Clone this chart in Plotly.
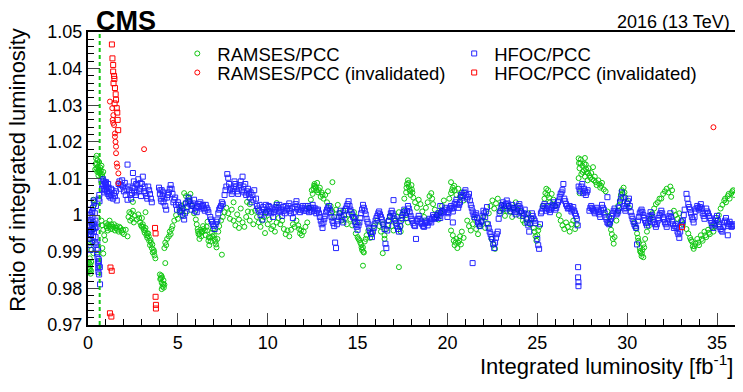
import plotly.graph_objects as go

# HFOC/PCC ratio vs integrated luminosity (fb^-1)
hfoc = [
    (0.05, 0.9955), (0.08, 0.9945), (0.1, 0.997), (0.12, 0.9935), (0.15, 0.996), (0.18, 0.9985),
    (0.2, 1.0005), (0.22, 0.9975), (0.25, 0.9995), (0.28, 1.002), (0.3, 0.998), (0.32, 1.004),
    (0.35, 1.0035), (0.38, 1.0005), (0.4, 0.9965), (0.42, 0.994), (0.45, 0.992), (0.48, 0.9905),
    (0.5, 0.9895), (0.52, 0.9925), (0.55, 0.987), (0.57, 0.9855), (0.58, 0.9845), (0.6, 0.9862),
    (0.62, 0.9838), (0.35, 0.9975), (0.27, 0.9962), (0.12, 1.0), (0.6, 1.0045), (0.63, 1.0055),
    (0.67, 0.9811),
    (0.75, 1.0095), (0.8, 1.0085), (0.85, 1.008), (0.9, 1.0072), (0.95, 1.0088), (1.0, 1.0078),
    (1.05, 1.0065), (1.1, 1.0058), (1.15, 1.0075), (1.2, 1.0062), (1.25, 1.0048), (1.3, 1.0055),
    (1.35, 1.0068), (1.4, 1.0045), (1.5, 1.0052), (1.6, 1.004), (0.9, 1.0062), (1.0, 1.009),
    (1.7, 1.0085), (1.8, 1.0072), (1.9, 1.0095), (2.0, 1.0065), (2.1, 1.0055), (2.2, 1.0138),
    (2.25, 1.0078), (2.3, 1.0068), (2.4, 1.0045), (2.45, 1.006), (2.5, 1.0115), (2.55, 1.0092),
    (2.6, 1.0075), (2.7, 1.0062), (2.75, 1.0082), (2.8, 1.0098), (2.9, 1.0072), (2.95, 1.0052),
    (3.0, 1.0085), (3.1, 1.0065), (3.2, 1.006), (3.3, 1.0045), (3.35, 1.0078), (3.45, 1.0058),
    (3.55, 1.0035), (2.2, 1.0042), (2.65, 1.0055), (3.05, 1.0105),
    (3.95, 1.0075), (4.0, 1.0058), (4.05, 1.0045), (4.1, 1.0068), (4.15, 1.0052), (4.2, 1.0035),
    (4.3, 1.0025), (4.35, 1.0015), (4.4, 1.0048), (4.5, 1.0062), (4.6, 1.0082), (4.65, 1.0072),
    (4.7, 1.0058),
    (4.8, 1.0042), (4.9, 1.0028), (5.0, 1.0035), (5.1, 1.002), (5.2, 1.0012), (5.3, 0.9998),
    (5.35, 0.9988), (5.4, 1.0005), (5.5, 1.0022), (5.55, 1.0038), (5.6, 1.0048), (5.7, 1.003),
    (5.75, 1.0015), (5.8, 1.0025), (5.9, 1.0042), (6.0, 1.002), (6.05, 1.0008),
    (6.1, 1.0025), (6.2, 1.003), (6.3, 1.0018), (6.4, 1.0028), (6.5, 1.0012), (6.6, 1.002),
    (6.7, 1.0008), (6.8, 0.9995), (6.9, 0.9982), (7.0, 0.997), (7.05, 0.9962), (7.1, 0.9975),
    (7.2, 0.9988), (7.3, 1.0015), (7.4, 1.0025), (7.5, 1.003),
    (7.6, 1.0055), (7.7, 1.0078), (7.75, 1.0112), (7.8, 1.0102), (7.9, 1.0068), (8.0, 1.0058),
    (8.1, 1.0072), (8.2, 1.0085), (8.3, 1.0065), (8.4, 1.0075), (8.5, 1.0092), (8.6, 1.0105),
    (8.65, 1.0078), (8.7, 1.0062), (8.8, 1.0055), (8.9, 1.0072), (9.0, 1.0048), (9.1, 1.0035),
    (9.15, 1.0055),
    (9.25, 1.0068), (9.35, 1.0045), (9.4, 1.0025), (9.5, 1.0012), (9.6, 1.0), (9.7, 0.9988),
    (9.8, 1.0015), (9.9, 1.0028), (10.0, 1.001), (10.1, 1.0022), (10.2, 1.0005), (10.3, 0.9995),
    (10.4, 1.0015), (10.5, 1.0028), (10.6, 1.002), (10.7, 1.0008), (10.8, 0.9998), (10.9, 1.0012),
    (11.0, 1.0025), (11.1, 1.0018), (11.2, 1.0032), (11.3, 1.0005), (11.4, 0.9992), (11.5, 1.0022),
    (11.6, 1.0038), (11.7, 1.0015),
    (11.8, 1.0008), (11.9, 1.002), (12.0, 1.0012), (12.1, 1.0025), (12.2, 1.0018), (12.3, 1.0008),
    (12.4, 1.002), (12.5, 1.0028), (12.6, 1.0012), (12.7, 1.0005), (12.8, 1.0015), (12.9, 0.9995),
    (13.0, 0.9975), (13.05, 0.9965), (13.1, 0.998), (13.2, 0.9998), (13.3, 1.0015),
    (13.4, 1.0025), (13.5, 1.0005), (13.6, 0.9985), (13.7, 0.997), (13.75, 0.9925), (13.8, 0.991),
    (13.9, 0.9985), (14.0, 1.0005), (14.1, 0.9995), (14.2, 0.998), (14.3, 1.0012), (14.4, 1.0025),
    (14.5, 1.0038), (14.6, 1.0015), (14.7, 1.0002), (14.8, 0.9992), (14.9, 0.9975), (15.0, 0.996),
    (15.1, 0.998), (15.2, 1.0005), (15.3, 1.0028), (15.4, 1.0012),
    (15.5, 0.999), (15.6, 0.9975), (15.7, 0.9955), (15.8, 0.994), (15.9, 0.9965), (16.0, 0.9985),
    (16.1, 0.9998), (16.2, 1.001), (16.3, 0.9995), (16.4, 0.998), (16.5, 0.9962), (16.55, 0.9922),
    (16.6, 0.991), (16.7, 0.9972), (16.8, 0.9995), (16.9, 1.0012), (17.0, 0.9998), (17.1, 0.9985),
    (17.2, 0.997), (17.3, 0.9955), (17.4, 0.9985), (17.5, 1.0), (17.6, 1.0015), (17.7, 0.9992),
    (17.8, 1.0025), (17.0, 1.0041),
    (17.9, 1.0008), (18.0, 0.999), (18.1, 0.9978), (18.2, 0.997), (18.25, 0.9935), (18.3, 0.9985),
    (18.4, 0.9998), (18.5, 0.9982), (18.6, 0.9975), (18.7, 0.9968), (18.8, 0.9985), (18.9, 0.9972),
    (19.0, 0.999), (19.1, 0.998), (19.2, 1.0),
    (19.3, 0.999), (19.4, 0.9995), (19.5, 1.0005), (19.6, 0.9992), (19.7, 1.0012), (19.8, 1.0008),
    (19.9, 1.002), (20.0, 0.9995), (20.1, 1.0015), (20.2, 1.0025), (20.3, 1.001), (20.4, 1.003),
    (20.5, 1.0042), (20.6, 1.002), (20.7, 1.0035), (20.75, 1.0055), (20.8, 1.0048), (20.9, 1.006),
    (21.0, 1.0068), (21.1, 1.0045), (21.2, 1.0058), (20.3, 0.998), (19.6, 1.0025),
    (21.3, 1.0028), (21.4, 1.001), (21.5, 0.9995), (21.6, 1.0005), (21.7, 0.998), (21.8, 0.997),
    (21.9, 0.9985), (22.0, 1.0012), (22.1, 0.9995), (22.2, 1.0022), (21.4, 0.9869),
    (22.3, 0.9965), (22.4, 0.9948), (22.5, 0.9935), (22.55, 0.992), (22.6, 0.991), (22.7, 0.9938),
    (22.8, 0.9955),
    (22.9, 1.0005), (23.0, 1.002), (23.1, 1.0035), (23.2, 1.0018), (23.3, 1.004), (23.4, 1.0025),
    (23.5, 1.001), (23.6, 1.0028), (23.7, 1.0015), (23.8, 1.0002),
    (23.9, 1.002), (24.0, 1.003), (24.1, 1.0012), (24.2, 0.9998), (24.3, 1.0015), (24.4, 0.999),
    (24.5, 0.9972), (24.55, 0.9955), (24.6, 0.9978), (24.7, 1.0005), (24.8, 0.999), (24.9, 0.9978),
    (25.0, 0.9935), (25.05, 0.9918), (25.1, 0.9908), (25.15, 0.9975),
    (25.2, 1.0005), (25.3, 1.0018), (25.4, 1.003), (25.5, 1.0012), (25.6, 1.0025), (25.7, 1.0008),
    (25.8, 1.002), (25.9, 1.0035), (26.0, 1.0015), (26.1, 1.0028), (26.2, 1.004), (26.3, 1.0058),
    (26.4, 1.0068), (26.45, 1.0085), (26.5, 1.0045), (26.6, 1.003), (26.7, 1.0018), (26.8, 1.0025),
    (26.9, 1.001), (27.0, 1.0022), (27.1, 1.0005), (27.2, 0.999), (27.25, 0.9972),
    (27.3, 1.0078), (27.4, 1.0065), (27.5, 1.0085), (27.55, 1.006), (27.6, 1.0072), (27.7, 1.0055),
    (27.8, 1.0068), (27.27, 0.9858), (27.27, 0.983), (27.29, 0.9817), (27.29, 0.9806),
    (27.9, 1.0012), (28.0, 1.0025), (28.1, 1.0015), (28.2, 1.0005), (28.3, 1.002), (28.4, 1.0008),
    (28.5, 0.9995), (28.6, 1.0028), (28.7, 1.0015), (28.8, 0.9995), (28.9, 0.998), (29.0, 0.9975),
    (29.1, 0.999), (29.2, 1.0005), (29.3, 1.0018), (29.4, 1.0002), (29.5, 1.001), (28.9, 1.0049),
    (29.6, 1.0035), (29.7, 1.0062), (29.75, 1.0048), (29.8, 1.0025), (29.9, 1.0012), (30.0, 1.003),
    (30.1, 1.0045), (30.2, 1.0008),
    (30.3, 0.999), (30.4, 0.9975), (30.5, 0.9965), (30.55, 0.992), (30.6, 0.9985), (30.7, 1.0005),
    (30.8, 1.0015), (30.9, 1.0), (31.0, 0.9985), (31.1, 0.9972), (31.2, 0.999), (31.3, 1.0008),
    (31.4, 0.9995), (31.5, 0.998), (31.6, 0.9968), (31.7, 0.9985), (31.8, 1.0), (31.9, 1.0012),
    (32.0, 0.9995), (32.1, 0.998), (32.2, 0.9968), (32.3, 0.999), (32.4, 1.0005),
    (32.5, 0.9985), (32.6, 0.9965), (32.7, 0.9975), (32.8, 0.9955), (32.9, 0.9938), (33.0, 0.9972),
    (33.1, 0.9985), (33.2, 1.0015),
    (33.3, 1.0058), (33.35, 1.0045), (33.4, 1.003), (33.5, 1.0015), (33.6, 0.9995), (33.7, 0.998),
    (33.8, 1.001),
    (33.9, 1.0025), (34.0, 1.0015), (34.1, 1.003), (34.2, 1.0005), (34.3, 0.999), (34.4, 1.0018),
    (34.5, 1.0005), (34.6, 0.9992), (34.7, 0.9978), (34.8, 0.9965), (34.9, 0.9985), (35.0, 0.9998),
    (35.1, 0.9975), (35.2, 0.9962), (35.3, 0.9955), (35.4, 0.998), (35.5, 0.9992), (35.6, 0.997),
    (35.7, 0.9982), (35.8, 0.9968), (35.9, 0.9975), (35.6, 0.9945),
    # second pass: denser band points
    (0.03, 0.998), (0.07, 1.0015), (0.1, 0.9925), (0.14, 0.9905), (0.17, 0.9948), (0.21, 0.9958),
    (0.24, 1.001), (0.29, 0.9942), (0.33, 0.9955), (0.37, 0.9925), (0.41, 0.9985), (0.44, 1.0025),
    (0.47, 0.9968), (0.53, 0.9885), (0.56, 0.9905), (0.59, 0.988), (0.61, 0.9875), (0.64, 1.0038),
    (0.66, 0.9858),
    (0.78, 1.0072), (0.83, 1.0098), (0.88, 1.0092), (0.93, 1.0068), (0.98, 1.0082), (1.08, 1.0075),
    (1.12, 1.0085), (1.18, 1.0052), (1.28, 1.0072), (1.45, 1.006), (1.55, 1.0065), (1.75, 1.0092),
    (1.85, 1.0082), (1.95, 1.0078), (2.05, 1.0088), (2.15, 1.0072), (2.35, 1.0055), (2.48, 1.0075),
    (2.58, 1.0065), (2.68, 1.0085), (2.85, 1.0065), (2.92, 1.0088), (3.15, 1.0078), (3.25, 1.0052),
    (3.4, 1.0068), (3.5, 1.0045),
    (4.02, 1.0068), (4.08, 1.0038), (4.18, 1.0062), (4.25, 1.0045), (4.45, 1.0055), (4.55, 1.0072),
    (4.75, 1.0035), (4.85, 1.0048), (4.95, 1.0015), (5.05, 1.0028), (5.15, 1.0008), (5.25, 1.0018),
    (5.45, 1.0032), (5.65, 1.004), (5.85, 1.0032), (5.95, 1.0012),
    (6.15, 1.0022), (6.25, 1.0035), (6.35, 1.0025), (6.45, 1.0018), (6.55, 1.0028), (6.65, 1.0015),
    (6.85, 0.9988), (6.95, 0.9975), (7.15, 0.9982), (7.25, 1.0005), (7.35, 1.002), (7.45, 1.0035),
    (7.65, 1.0068), (7.85, 1.0085), (7.95, 1.0075), (8.05, 1.0065), (8.15, 1.0092), (8.25, 1.0078),
    (8.35, 1.0058), (8.45, 1.0082), (8.55, 1.0068), (8.75, 1.0085), (8.85, 1.0065), (8.95, 1.0058),
    (9.05, 1.0062), (9.2, 1.0042),
    (9.45, 1.0018), (9.55, 1.0028), (9.65, 1.0008), (9.75, 1.0022), (9.85, 1.0005), (9.95, 1.0015),
    (10.05, 1.0025), (10.15, 1.001), (10.25, 1.0018), (10.35, 1.0008), (10.45, 1.0022), (10.55, 1.0012),
    (10.65, 1.0028), (10.75, 1.0015), (10.85, 1.0022), (10.95, 1.0005), (11.05, 1.0015), (11.15, 1.0025),
    (11.25, 1.0012), (11.35, 1.0018), (11.45, 1.0008), (11.55, 1.003), (11.65, 1.0022),
    (11.85, 1.0015), (11.95, 1.0025), (12.05, 1.0018), (12.15, 1.0012), (12.25, 1.0025), (12.35, 1.0015),
    (12.45, 1.001), (12.55, 1.002), (12.65, 1.0018), (12.75, 1.0012), (12.85, 1.0005), (12.95, 0.9985),
    (13.15, 0.999), (13.25, 1.0008), (13.35, 1.002),
    (13.45, 1.0015), (13.55, 0.9995), (13.65, 0.9978), (13.85, 0.9975), (13.95, 0.9995), (14.05, 1.0012),
    (14.15, 0.9988), (14.25, 1.0), (14.35, 1.0018), (14.45, 1.003), (14.55, 1.0025), (14.65, 1.0008),
    (14.75, 0.9995), (14.85, 0.9982), (14.95, 0.9968), (15.05, 0.9972), (15.15, 0.9992), (15.25, 1.0015),
    (15.35, 1.002), (15.45, 1.0002),
    (15.55, 0.9982), (15.65, 0.9965), (15.75, 0.9948), (15.85, 0.9955), (15.95, 0.9975), (16.05, 0.9992),
    (16.15, 1.0005), (16.25, 1.0002), (16.35, 0.9988), (16.45, 0.9972), (16.65, 0.9958), (16.75, 0.9985),
    (16.85, 1.0005), (16.95, 1.0005), (17.05, 0.999), (17.15, 0.9978), (17.25, 0.9962), (17.35, 0.997),
    (17.45, 0.9992), (17.55, 1.0008), (17.65, 1.0005), (17.75, 1.001), (17.85, 1.0018),
    (17.95, 0.9998), (18.05, 0.9985), (18.15, 0.9972), (18.35, 0.999), (18.45, 0.999), (18.55, 0.9978),
    (18.65, 0.997), (18.75, 0.9978), (18.85, 0.998), (18.95, 0.998), (19.05, 0.9985), (19.15, 0.999),
    (19.25, 0.9995),
    (19.35, 0.9992), (19.45, 1.0), (19.55, 0.9998), (19.65, 1.0005), (19.75, 1.001), (19.85, 1.0015),
    (19.95, 1.0008), (20.05, 1.0005), (20.15, 1.002), (20.25, 1.0018), (20.35, 1.002), (20.45, 1.0035),
    (20.55, 1.003), (20.65, 1.0028), (20.85, 1.0052), (20.95, 1.0062), (21.05, 1.0055), (21.15, 1.005),
    (21.25, 1.004),
    (21.35, 1.002), (21.45, 1.0002), (21.55, 1.0), (21.65, 0.9992), (21.75, 0.9975), (21.85, 0.998),
    (21.95, 0.9998), (22.05, 1.0005), (22.15, 1.001), (22.25, 0.9975), (22.35, 0.9955), (22.45, 0.994),
    (22.65, 0.9925), (22.75, 0.9948), (22.85, 0.999), (22.95, 1.0012), (23.05, 1.0028), (23.15, 1.0025),
    (23.25, 1.003), (23.35, 1.0032), (23.45, 1.0018), (23.55, 1.002), (23.65, 1.002), (23.75, 1.0008),
    (23.85, 1.001),
    (23.95, 1.0025), (24.05, 1.002), (24.15, 1.0005), (24.25, 1.0005), (24.35, 1.0002), (24.45, 0.998),
    (24.65, 0.999), (24.75, 0.9998), (24.85, 0.9985), (25.25, 1.001), (25.35, 1.0025), (25.45, 1.002),
    (25.55, 1.0018), (25.65, 1.0015), (25.75, 1.0015), (25.85, 1.0028), (25.95, 1.0025), (26.05, 1.002),
    (26.15, 1.0035), (26.25, 1.005), (26.35, 1.0062), (26.55, 1.0038), (26.65, 1.0025), (26.75, 1.002),
    (26.85, 1.0018), (26.95, 1.0015), (27.05, 1.0012), (27.15, 0.9998),
    (27.35, 1.007), (27.45, 1.0078), (27.65, 1.0065), (27.75, 1.0062), (27.95, 1.002), (28.05, 1.0018),
    (28.15, 1.001), (28.25, 1.0012), (28.35, 1.0015), (28.45, 1.0002), (28.55, 1.0012), (28.65, 1.002),
    (28.75, 1.0005), (28.85, 0.9988), (28.95, 0.9978), (29.05, 0.9982), (29.15, 0.9998), (29.25, 1.0012),
    (29.35, 1.001), (29.45, 1.0005), (29.55, 1.002),
    (29.65, 1.0045), (29.85, 1.0018), (29.95, 1.002), (30.05, 1.0038), (30.15, 1.0025), (30.25, 0.9998),
    (30.35, 0.9982), (30.45, 0.997), (30.65, 0.9995), (30.75, 1.001), (30.85, 1.0008), (30.95, 0.9992),
    (31.05, 0.9978), (31.15, 0.998), (31.25, 0.9998), (31.35, 1.0), (31.45, 0.9988), (31.55, 0.9975),
    (31.65, 0.9975), (31.75, 0.9992), (31.85, 1.0005), (31.95, 1.0005), (32.05, 0.9988), (32.15, 0.9975),
    (32.25, 0.998), (32.35, 0.9998), (32.45, 0.9995), (32.55, 0.9975), (32.65, 0.997), (32.75, 0.9965),
    (32.85, 0.9948), (32.95, 0.9955), (33.05, 0.998), (33.15, 1.0),
    (33.45, 1.0022), (33.55, 1.0005), (33.65, 0.9988), (33.75, 0.9995), (33.85, 1.0018), (33.95, 1.002),
    (34.05, 1.0022), (34.15, 1.0018), (34.25, 0.9998), (34.35, 1.0005), (34.45, 1.001), (34.55, 0.9998),
    (34.65, 0.9985), (34.75, 0.9972), (34.85, 0.9975), (34.95, 0.9992), (35.05, 0.9985), (35.15, 0.9968),
    (35.25, 0.9958), (35.35, 0.9968), (35.45, 0.9985), (35.55, 0.998), (35.65, 0.9975), (35.75, 0.9975),
    (35.85, 0.997), (35.95, 0.9972),
]

# RAMSES/PCC ratio
ramses = [
    (0.02, 0.9858), (0.05, 0.9845), (0.08, 0.9868), (0.1, 0.9882), (0.12, 0.9852), (0.15, 0.984),
    (0.18, 0.9872), (0.05, 0.9935), (0.1, 0.9918), (0.15, 0.9955), (0.2, 0.9905), (0.25, 0.9925),
    (0.3, 0.9962), (0.3, 1.0042), (0.35, 1.0028), (0.22, 0.9978), (0.3, 0.9896),
    (0.4, 1.0125), (0.45, 1.0155), (0.5, 1.014), (0.52, 1.0118), (0.55, 1.0132), (0.58, 1.0108),
    (0.6, 1.0125), (0.62, 1.0145), (0.65, 1.012), (0.7, 1.0112), (0.75, 1.0135), (0.8, 1.0105),
    (0.85, 1.0118), (0.48, 1.0162),
    (0.75, 0.9985), (0.8, 0.9972), (0.85, 0.996), (0.9, 0.9945), (0.95, 0.9932), (1.0, 0.9978),
    (1.05, 0.9965), (1.1, 0.9958), (1.15, 0.997), (1.2, 0.9985), (1.25, 0.9962), (1.3, 0.9975),
    (1.4, 0.9968), (1.5, 0.9958), (1.6, 0.997), (1.7, 0.9955), (1.8, 0.9965), (1.9, 0.9952),
    (2.0, 0.9948), (2.1, 0.996), (2.2, 0.9942), (0.8, 0.991), (0.85, 0.9895),
    (2.25, 0.9995), (2.3, 1.0008), (2.35, 0.9985), (2.4, 1.0005), (2.45, 0.999), (2.5, 1.0012),
    (2.55, 0.998), (2.6, 0.9998), (2.7, 0.9988), (2.8, 1.0002), (2.85, 0.9992), (2.5, 1.0036),
    (2.9, 0.998), (3.0, 0.9968), (3.05, 0.9975), (3.1, 0.996), (3.15, 0.9952), (3.2, 0.9965),
    (3.25, 0.9945), (3.3, 0.9938), (3.35, 0.995), (3.4, 0.993), (3.45, 0.9918), (3.5, 0.9925),
    (3.55, 0.991), (3.6, 0.9898), (3.65, 0.9905), (3.7, 0.989), (3.75, 0.9882), (3.0, 0.9992),
    (3.2, 1.0008),
    (4.0, 0.9838), (4.05, 0.9828), (4.1, 0.9815), (4.12, 0.983), (4.15, 0.9805), (4.2, 0.9822),
    (4.25, 0.981), (4.1, 0.9798), (4.3, 0.9869),
    (4.25, 0.991), (4.3, 0.9925), (4.35, 0.9918), (4.4, 0.9935), (4.5, 0.9942), (4.55, 0.9955),
    (4.6, 0.9948), (4.65, 0.9962), (4.7, 0.997),
    (4.8, 0.9985), (4.9, 1.0), (5.0, 0.999), (5.1, 1.0012), (5.2, 1.0025), (5.25, 1.0),
    (5.3, 1.0018), (5.4, 1.0032), (5.5, 1.001), (5.6, 1.0048), (5.65, 1.0038), (5.7, 1.0058),
    (5.8, 1.0025), (5.9, 1.0005), (6.0, 0.9988), (5.35, 1.006), (5.45, 1.0052),
    (6.05, 0.9975), (6.1, 0.9962), (6.15, 0.9948), (6.2, 0.9935), (6.25, 0.996), (6.3, 0.9942),
    (6.35, 0.9955), (6.4, 0.997), (6.5, 0.9958), (6.55, 0.9945), (6.6, 0.9968), (6.65, 0.9982),
    (6.7, 0.993), (6.75, 0.9918), (6.8, 0.9938), (6.9, 0.9952), (6.95, 0.9962), (7.0, 0.9945),
    (7.1, 0.9928), (7.15, 0.9912), (7.2, 0.9935), (7.25, 0.9955), (7.3, 0.997), (7.4, 0.9985),
    (7.45, 0.9892),
    (7.5, 0.9995), (7.6, 1.0008), (7.7, 1.002), (7.8, 1.0005), (7.9, 0.999), (8.0, 1.0015),
    (8.1, 0.9985), (8.2, 0.9972), (8.3, 1.0002), (8.4, 0.9988), (8.5, 1.0018), (8.6, 0.998),
    (8.7, 0.9968), (8.8, 0.9995), (8.9, 1.001), (9.0, 0.9985), (9.1, 1.0008), (9.2, 0.9975),
    (8.1, 1.0035), (8.4, 0.9965), (9.0, 1.003), (8.85, 1.0036),
    (9.3, 1.0012), (9.4, 0.9995), (9.5, 0.998), (9.6, 0.9968), (9.7, 0.9985), (9.8, 0.9995),
    (9.9, 1.0008), (10.0, 0.9975), (10.1, 0.9988), (10.2, 0.9962), (10.3, 0.997), (10.4, 0.9955),
    (10.5, 0.998), (10.6, 0.9992), (10.7, 0.9975), (10.8, 0.9985), (10.9, 0.9962), (11.0, 0.9948),
    (11.1, 0.9958), (11.2, 0.9942), (11.3, 0.996), (11.4, 0.9975), (11.5, 0.9968), (11.6, 0.9985),
    (11.7, 0.9972), (9.85, 0.9951), (10.5, 1.0033),
    (11.75, 0.9962), (11.8, 0.995), (11.85, 0.9958), (11.9, 0.9945), (12.0, 0.9955), (12.1, 0.9968),
    (12.2, 0.998),
    (12.3, 1.002), (12.4, 1.0042), (12.5, 1.0058), (12.55, 1.0072), (12.6, 1.0085), (12.65, 1.0078),
    (12.7, 1.0068), (12.75, 1.0088), (12.8, 1.0062), (12.9, 1.0075), (12.95, 1.005), (13.0, 1.0062),
    (13.1, 1.0045), (13.2, 1.0055), (13.3, 1.0035), (13.35, 1.0065), (13.6, 1.009),
    (13.5, 1.0025), (13.6, 1.001), (13.7, 0.9995), (13.8, 1.0015), (13.9, 1.0028), (14.0, 1.0005),
    (14.1, 0.9985), (14.2, 1.0012), (14.3, 0.999), (14.4, 0.9975), (14.5, 1.0002), (14.6, 0.9988),
    (14.7, 0.9972), (14.8, 1.0008), (14.9, 0.9995), (15.0, 0.998),
    (14.9, 0.995), (15.0, 0.994), (15.1, 0.9932), (15.2, 0.992), (15.25, 0.9905), (15.3, 0.9912),
    (15.35, 0.9898), (15.4, 0.9928), (15.5, 0.9945), (15.6, 0.9958), (15.7, 0.9938), (15.8, 0.9952),
    (15.9, 0.997), (15.3, 0.9862),
    (16.1, 0.9985), (16.2, 0.997), (16.3, 0.9955), (16.4, 0.9975), (16.5, 0.9945), (16.6, 0.9962),
    (16.7, 0.9985), (16.8, 0.9998), (16.9, 0.997), (17.0, 0.9958), (17.1, 0.9985), (17.2, 0.9995),
    (17.3, 1.0008), (17.4, 0.997), (17.5, 0.9988), (17.6, 1.0012), (17.7, 1.0), (17.8, 0.998),
    (16.4, 0.9896), (16.5, 0.9935), (17.4, 0.9955), (17.3, 0.9858),
    (17.6, 1.0045), (17.7, 1.0062), (17.75, 1.0085), (17.8, 1.0095), (17.85, 1.0078), (17.9, 1.007),
    (17.95, 1.0055), (18.0, 1.0082), (18.05, 1.0062), (18.1, 1.0048), (18.2, 1.0035), (18.3, 1.002),
    (18.4, 1.0042), (18.5, 1.003),
    (18.6, 1.001), (18.7, 0.9995), (18.8, 1.002), (18.9, 1.0035), (19.0, 1.0052), (19.1, 1.006),
    (19.15, 1.0045), (19.2, 1.003), (19.3, 1.0015), (19.4, 1.0), (19.5, 0.9988), (19.6, 1.0008),
    (19.7, 1.0025), (19.8, 1.004),
    (20.1, 1.0045), (20.2, 1.006), (20.3, 1.0075), (20.2, 1.009), (20.4, 1.0068), (20.5, 1.0055),
    (20.6, 1.0072), (20.7, 1.005), (20.8, 1.0062), (20.9, 1.004),
    (20.2, 0.9958), (20.3, 0.9945), (20.35, 0.993), (20.4, 0.9918), (20.5, 0.9935), (20.55, 0.991),
    (20.6, 0.9925), (20.7, 0.9942), (20.75, 0.992), (20.8, 0.9955), (20.9, 0.9938),
    (21.1, 0.9985), (21.2, 0.997), (21.3, 0.9958), (21.4, 0.9975), (21.5, 0.999), (21.6, 0.9962),
    (21.7, 0.9948), (21.8, 0.997), (21.9, 0.9982), (22.0, 0.9995), (22.1, 0.9965), (22.2, 0.9978),
    (22.3, 1.0005), (22.4, 1.0025), (22.5, 1.004), (22.6, 1.0018), (22.7, 1.0032), (22.8, 1.0045),
    (22.9, 1.001), (23.0, 1.0028), (23.1, 1.0015), (23.2, 0.9998), (22.45, 0.9935), (22.55, 0.992),
    (22.65, 0.9908),
    (23.3, 1.0012), (23.4, 1.0025), (23.5, 1.001), (23.6, 0.9995), (23.7, 1.002), (23.8, 1.0035),
    (23.9, 1.0015), (24.0, 0.9998), (24.1, 1.001), (24.2, 0.9985), (24.3, 0.9978), (24.4, 0.999),
    (24.5, 1.0005), (24.6, 0.9975), (24.7, 0.999), (24.8, 0.9965),
    (24.85, 0.9955), (24.9, 0.9942), (24.95, 0.993), (25.0, 0.9945), (25.05, 0.9958), (25.1, 0.9968),
    (25.3, 1.0025), (25.4, 1.0045), (25.45, 1.006), (25.5, 1.0072), (25.55, 1.0055), (25.6, 1.0068),
    (25.65, 1.0048), (25.7, 1.0035), (25.8, 1.0058), (25.9, 1.0042), (26.0, 1.0025),
    (26.2, 1.0), (26.3, 0.9985), (26.4, 0.9972), (26.5, 0.9962), (26.6, 0.998), (26.7, 0.9968),
    (26.8, 0.9955), (26.9, 0.9975), (27.0, 0.9985), (27.1, 0.9962), (27.2, 0.9975),
    (27.3, 1.0155), (27.35, 1.0128), (27.4, 1.0142), (27.45, 1.0112), (27.5, 1.0135), (27.65, 1.0156),
    (27.6, 1.0122), (27.65, 1.0105), (27.7, 1.0138), (27.75, 1.0118), (27.8, 1.0095), (27.85, 1.0128),
    (27.9, 1.0108), (28.0, 1.0115), (28.05, 1.0098), (28.1, 1.0131), (28.2, 1.0105), (28.3, 1.0082),
    (28.4, 1.0095), (28.5, 1.0075), (28.6, 1.0088), (28.7, 1.007), (28.8, 1.0065), (27.3, 1.0101),
    (27.35, 1.006),
    (28.9, 1.001), (29.0, 0.9995), (29.05, 0.9975), (29.1, 0.996), (29.15, 0.9948), (29.2, 0.9935),
    (29.25, 0.9922), (29.3, 0.994), (29.4, 0.9985), (29.5, 1.0012),
    (29.5, 1.0025), (29.6, 1.004), (29.65, 1.0055), (29.7, 1.0068), (29.75, 1.006), (29.8, 1.0075),
    (29.85, 1.0062), (29.9, 1.0048), (30.0, 1.0035), (30.1, 1.002),
    (30.4, 0.998), (30.5, 0.9965), (30.55, 0.995), (30.6, 0.9938), (30.65, 0.9925), (30.7, 0.991),
    (30.75, 0.9898), (30.8, 0.9888), (30.85, 0.9905), (30.9, 0.992), (31.0, 0.9935), (31.1, 0.9955),
    (31.2, 0.997), (30.9, 0.9885),
    (31.3, 0.999), (31.4, 1.0005), (31.5, 1.0018), (31.6, 1.003), (31.7, 1.0035), (31.8, 1.0045),
    (31.9, 1.0045), (32.0, 1.0058), (32.1, 1.0065), (32.2, 1.0072), (32.3, 1.0062), (32.4, 1.0078),
    (32.5, 1.0068), (32.45, 1.005),
    (32.6, 1.0012), (32.7, 1.0), (32.8, 0.999), (32.9, 1.0005), (33.0, 0.9985), (33.1, 0.9975),
    (33.3, 0.9962), (33.4, 0.995), (33.5, 0.9938), (33.6, 0.9928), (33.65, 0.9915), (33.7, 0.9908),
    (33.8, 0.9922), (33.9, 0.9935), (34.0, 0.9918), (34.1, 0.9945), (34.2, 0.993), (34.3, 0.9955),
    (34.4, 0.994), (34.5, 0.996), (34.6, 0.9948), (34.7, 0.9968), (34.8, 0.9955), (34.9, 0.997),
    (35.0, 0.9985), (35.1, 1.0), (35.2, 1.0018), (35.3, 1.0028), (35.4, 1.004), (35.5, 1.0035),
    (35.6, 1.0052), (35.7, 1.0045), (35.8, 1.006), (35.9, 1.0068), (35.95, 1.0055),
    # second pass
    (0.42, 1.014), (0.47, 1.0128), (0.53, 1.015), (0.57, 1.0122), (0.63, 1.0115), (0.68, 1.013),
    (0.72, 1.0122), (0.78, 1.0112), (0.04, 0.9872), (0.09, 0.9855), (0.13, 0.9865), (0.17, 0.9848),
    (1.02, 0.997), (1.12, 0.9975), (1.22, 0.9968), (1.35, 0.9962), (1.45, 0.9975), (1.55, 0.9965),
    (1.65, 0.996), (1.75, 0.9968), (1.85, 0.9958), (1.95, 0.996),
    (2.95, 0.9972), (3.08, 0.9968), (3.18, 0.9958), (3.28, 0.995), (3.38, 0.9942), (3.48, 0.9932),
    (3.58, 0.992), (3.68, 0.99), (4.02, 0.9825), (4.08, 0.9835), (4.18, 0.9812), (4.22, 0.9802),
    (6.12, 0.9955), (6.22, 0.9948), (6.32, 0.9955), (6.42, 0.9962), (6.62, 0.9958), (6.72, 0.994),
    (6.82, 0.9928), (6.92, 0.9942), (7.05, 0.9935), (7.12, 0.992),
    (12.45, 1.0068), (12.58, 1.008), (12.68, 1.0075), (12.85, 1.0068), (13.05, 1.0055),
    (15.05, 0.9935), (15.15, 0.9925), (15.22, 0.9912), (15.32, 0.99), (15.45, 0.9935),
    (17.72, 1.0075), (17.82, 1.0088), (17.92, 1.0065), (18.02, 1.007),
    (20.25, 1.0068), (20.38, 1.008), (20.45, 0.9925), (20.65, 0.993),
    (27.32, 1.0142), (27.42, 1.0152), (27.52, 1.0118), (27.62, 1.014), (27.72, 1.0125), (27.82, 1.0115),
    (27.95, 1.0102), (28.15, 1.0095), (28.25, 1.009), (28.45, 1.0085), (28.55, 1.008),
    (30.62, 0.993), (30.72, 0.9902), (30.82, 0.9895), (30.95, 0.9912),
    (33.55, 0.9932), (33.75, 0.9915), (33.95, 0.9925), (34.15, 0.9935), (34.35, 0.9945), (34.55, 0.9952),
    (35.45, 1.0045), (35.65, 1.0058), (35.85, 1.0065),
]

# invalidated periods
ramses_inval = [
    (1.22, 1.031), (1.35, 1.0292), (1.41, 1.0273), (1.37, 1.026), (1.45, 1.0246), (1.5, 1.0223),
    (1.5, 1.0214), (1.56, 1.0187), (1.56, 1.0169), (1.6, 1.0141), (1.63, 1.0132), (1.69, 1.0114),
    (1.69, 1.0087), (1.4, 1.0252), (1.53, 1.02), (3.12, 1.018), (34.8, 1.024),
]
hfoc_inval = [
    (1.33, 1.0466), (1.36, 1.0428), (1.4, 1.041), (1.4, 1.0392), (1.45, 1.038), (1.47, 1.0372),
    (1.42, 1.036), (1.5, 1.0347), (1.54, 1.033), (1.56, 1.0315), (1.48, 1.0305), (1.6, 1.0292),
    (1.63, 1.028), (1.65, 1.026), (1.68, 1.0232), (1.25, 0.9857), (1.32, 0.9848), (1.22, 0.9732),
    (1.3, 0.9723), (3.73, 0.9965), (3.76, 0.995), (3.76, 0.9777), (3.78, 0.9755), (3.78, 0.9745),
    (33.05, 0.9967),
]

x_range = [0, 36]
y_range = [0.97, 1.05]
cut_lumi = 0.65  # dashed line

GREEN = '#12c812'
BLUE = '#0000ff'
RED = '#ff0000'
FONT = 'Liberation Sans, Arial, Helvetica, sans-serif'


def xy(pts):
    return [p[0] for p in pts], [p[1] for p in pts]


fig = go.Figure()

rx, ry = xy(ramses)
fig.add_trace(go.Scatter(x=rx, y=ry, mode='markers', name='RAMSES/PCC', legend='legend',
                         marker=dict(symbol='circle-open', size=5, color=GREEN, line=dict(width=1))))
hx, hy = xy(hfoc)
fig.add_trace(go.Scatter(x=hx, y=hy, mode='markers', name='HFOC/PCC', legend='legend3', opacity=0.85,
                         marker=dict(symbol='square-open', size=5, color=BLUE, line=dict(width=1))))
rix, riy = xy(ramses_inval)
fig.add_trace(go.Scatter(x=rix, y=riy, mode='markers', name='RAMSES/PCC (invalidated)', legend='legend2',
                         marker=dict(symbol='circle-open', size=5, color=RED, line=dict(width=1))))
hix, hiy = xy(hfoc_inval)
fig.add_trace(go.Scatter(x=hix, y=hiy, mode='markers', name='HFOC/PCC (invalidated)', legend='legend4',
                         marker=dict(symbol='square-open', size=5, color=RED, line=dict(width=1))))

fig.add_shape(type='line', xref='x', yref='paper', x0=cut_lumi, x1=cut_lumi, y0=0, y1=1,
              line=dict(color=GREEN, width=2, dash='4px,3px'))

legend_style = dict(font=dict(family=FONT, size=18.5, color='black'), bgcolor='rgba(0,0,0,0)',
                    yanchor='top', xanchor='left', itemwidth=30)
row1, row2 = 0.99, 0.925
col1, col2 = 0.138, 0.566

# the page body adds an 8 px offset, so the figure is 8 px smaller than the window
fig.update_layout(
    width=735, height=384,
    plot_bgcolor='white', paper_bgcolor='white',
    margin=dict(l=80, r=8, t=24, b=67, autoexpand=False),
    font=dict(family=FONT, size=18, color='black'),
    showlegend=True,
    legend=dict(x=col1, y=row1, **legend_style),
    legend2=dict(x=col1, y=row2, **legend_style),
    legend3=dict(x=col2, y=row1, **legend_style),
    legend4=dict(x=col2, y=row2, **legend_style),
    xaxis=dict(range=x_range, dtick=5, tick0=0, ticks='inside', ticklen=12, tickwidth=1,
               showline=True, linecolor='black', linewidth=2, mirror=True, showgrid=False,
               zeroline=False, tickfont=dict(size=18),
               minor=dict(ticks='inside', ticklen=6, dtick=1, tickcolor='black', showgrid=False)),
    yaxis=dict(range=y_range, dtick=0.01, tick0=0.97, ticks='inside', ticklen=12, tickwidth=1,
               showline=True, linecolor='black', linewidth=2, mirror=True, showgrid=False,
               zeroline=False, tickfont=dict(size=18),
               minor=dict(ticks='inside', ticklen=6, dtick=0.002, tickcolor='black', showgrid=False)),
    annotations=[
        dict(text='<b>CMS</b>', xref='paper', yref='paper', x=0.01, y=1.0, xanchor='left',
             yanchor='bottom', showarrow=False, font=dict(size=27), yshift=-6),
        dict(text='2016 (13 TeV)', xref='paper', yref='paper', x=1.0, y=1.0, xanchor='right',
             yanchor='bottom', showarrow=False, font=dict(size=18), xshift=-3, yshift=-2),
        dict(text='Integrated luminosity [fb<sup>-1</sup>]', xref='paper', yref='paper', x=1.0,
             y=-0.138, xanchor='right', yanchor='middle', showarrow=False, font=dict(size=22)),
        dict(text='Ratio of integrated luminosity', xref='paper', yref='paper', x=-0.108, y=0.53,
             xanchor='center', yanchor='middle', textangle=-90, showarrow=False, font=dict(size=22)),
    ],
)

fig.write_html("out.html")
